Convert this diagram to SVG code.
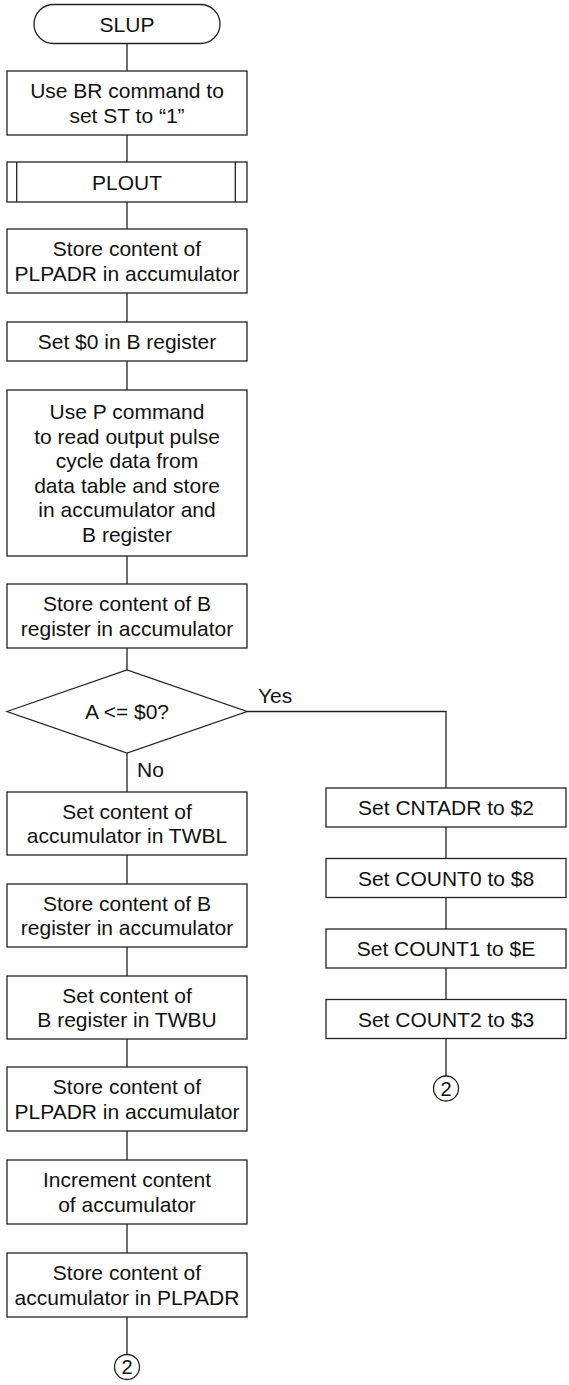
<svg xmlns="http://www.w3.org/2000/svg" width="569" height="1385" viewBox="0 0 569 1385">
  <style>
    .shape { fill: #ffffff; stroke: #222222; stroke-width: 1.3; }
    .wire { fill: none; stroke: #222222; stroke-width: 1.3; }
    text { font-family: "Liberation Sans", Arial, sans-serif; font-size: 21px; fill: #111111; }
    .c { text-anchor: middle; }
    .small { font-size: 20px; }
  </style>
  <rect width="569" height="1385" fill="#ffffff"/>

  <!-- connectors -->
  <g id="connectors">
    <path class="wire" d="M127,43.5 V71 M127,135 V162 M127,202 V229 M127,293 V322 M127,361 V390 M127,556 V584 M127,648 V670 M127,753 V792 M127,855 V884 M127,947 V976 M127,1039 V1067 M127,1131 V1160 M127,1224 V1253 M127,1317 V1354.5"/>
    <path class="wire" d="M247,711.5 H446 V788"/>
    <path class="wire" d="M446,827 V858.5 M446,897.5 V929 M446,968 V999.5 M446,1038.5 V1076"/>
    <text x="258" y="703">Yes</text>
    <text x="137" y="777">No</text>
  </g>

  <!-- main column -->
  <g id="start">
    <rect class="shape" x="34" y="4.5" width="186" height="39" rx="19.5" ry="19.5"/>
    <text class="c" x="127" y="31.5">SLUP</text>
  </g>
  <g id="set-st">
    <rect class="shape" x="7" y="71" width="240" height="64"/>
    <text class="c" x="127" y="98.25">Use BR command to</text>
    <text class="c" x="127" y="122.75">set ST to “1”</text>
  </g>
  <g id="plout">
    <rect class="shape" x="7" y="162" width="240" height="40"/>
    <path class="wire" d="M16.7,162 V202 M235.3,162 V202"/>
    <text class="c" x="127" y="189.5">PLOUT</text>
  </g>
  <g id="load-plpadr">
    <rect class="shape" x="7" y="229" width="240" height="64"/>
    <text class="c" x="127" y="256.25">Store content of</text>
    <text class="c" x="127" y="280.75">PLPADR in accumulator</text>
  </g>
  <g id="clear-b">
    <rect class="shape" x="7" y="322" width="240" height="39"/>
    <text class="c" x="127" y="349">Set $0 in B register</text>
  </g>
  <g id="read-table">
    <rect class="shape" x="7" y="390" width="240" height="166"/>
    <text class="c" x="127" y="419.25">Use P command</text>
    <text class="c" x="127" y="443.75">to read output pulse</text>
    <text class="c" x="127" y="468.25">cycle data from</text>
    <text class="c" x="127" y="492.75">data table and store</text>
    <text class="c" x="127" y="517.25">in accumulator and</text>
    <text class="c" x="127" y="541.75">B register</text>
  </g>
  <g id="b-to-acc-1">
    <rect class="shape" x="7" y="584" width="240" height="64"/>
    <text class="c" x="127" y="611.25">Store content of B</text>
    <text class="c" x="127" y="635.75">register in accumulator</text>
  </g>
  <g id="check-zero">
    <polygon class="shape" points="7,711.5 127,670 247,711.5 127,753"/>
    <text class="c" x="127" y="719">A &lt;= $0?</text>
  </g>
  <g id="acc-to-twbl">
    <rect class="shape" x="7" y="792" width="240" height="63"/>
    <text class="c" x="127" y="818.75">Set content of</text>
    <text class="c" x="127" y="843.25">accumulator in TWBL</text>
  </g>
  <g id="b-to-acc-2">
    <rect class="shape" x="7" y="884" width="240" height="63"/>
    <text class="c" x="127" y="910.75">Store content of B</text>
    <text class="c" x="127" y="935.25">register in accumulator</text>
  </g>
  <g id="b-to-twbu">
    <rect class="shape" x="7" y="976" width="240" height="63"/>
    <text class="c" x="127" y="1002.75">Set content of</text>
    <text class="c" x="127" y="1027.25">B register in TWBU</text>
  </g>
  <g id="reload-plpadr">
    <rect class="shape" x="7" y="1067" width="240" height="64"/>
    <text class="c" x="127" y="1094.25">Store content of</text>
    <text class="c" x="127" y="1118.75">PLPADR in accumulator</text>
  </g>
  <g id="increment">
    <rect class="shape" x="7" y="1160" width="240" height="64"/>
    <text class="c" x="127" y="1187.25">Increment content</text>
    <text class="c" x="127" y="1211.75">of accumulator</text>
  </g>
  <g id="save-plpadr">
    <rect class="shape" x="7" y="1253" width="240" height="64"/>
    <text class="c" x="127" y="1280.25">Store content of</text>
    <text class="c" x="127" y="1304.75">accumulator in PLPADR</text>
  </g>
  <g id="goto-2-left">
    <circle class="shape" cx="127" cy="1367" r="12.5"/>
    <text class="c small" x="127" y="1374">2</text>
  </g>

  <!-- right column -->
  <g id="set-cntadr">
    <rect class="shape" x="326" y="788" width="240" height="39"/>
    <text class="c" x="446" y="815">Set CNTADR to $2</text>
  </g>
  <g id="set-count0">
    <rect class="shape" x="326" y="858.5" width="240" height="39"/>
    <text class="c" x="446" y="885.5">Set COUNT0 to $8</text>
  </g>
  <g id="set-count1">
    <rect class="shape" x="326" y="929" width="240" height="39"/>
    <text class="c" x="446" y="956">Set COUNT1 to $E</text>
  </g>
  <g id="set-count2">
    <rect class="shape" x="326" y="999.5" width="240" height="39"/>
    <text class="c" x="446" y="1026.5">Set COUNT2 to $3</text>
  </g>
  <g id="goto-2-right">
    <circle class="shape" cx="446" cy="1088.5" r="12.5"/>
    <text class="c small" x="446" y="1095.5">2</text>
  </g>
</svg>
